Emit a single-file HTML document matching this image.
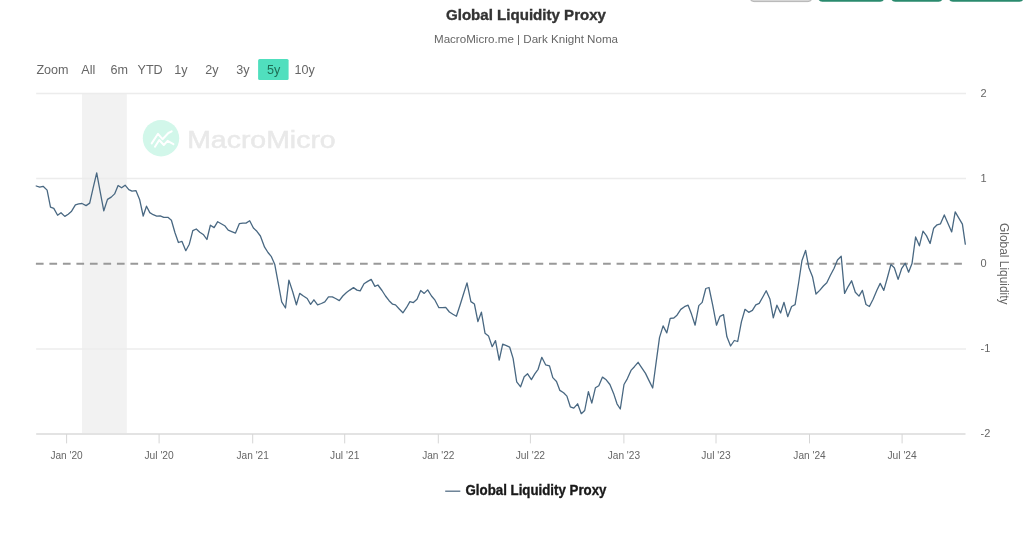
<!DOCTYPE html>
<html><head><meta charset="utf-8"><title>Global Liquidity Proxy</title>
<style>html,body{margin:0;padding:0;background:#ffffff;}body{width:1024px;height:539px;overflow:hidden;position:relative;}</style>
</head><body>
<svg width="1024" height="539" viewBox="0 0 1024 539" style="position:absolute;left:0;top:0"><rect x="750" y="-20" width="62" height="21.6" rx="4" fill="#d6d6d6" stroke="#b5b5b5" stroke-width="1"/><rect x="818.3" y="-20" width="65.9" height="21.8" rx="4" fill="#2a8a6e"/><rect x="891.2" y="-20" width="51.4" height="21.8" rx="4" fill="#2a8a6e"/><rect x="948.9" y="-20" width="74.6" height="21.8" rx="4" fill="#2a8a6e"/><text x="526" y="19.9" text-anchor="middle" font-family='"Liberation Sans", "DejaVu Sans", sans-serif' font-weight="bold" font-size="15.3" textLength="160" lengthAdjust="spacingAndGlyphs" fill="#333333" stroke="#333333" stroke-width="0.35">Global Liquidity Proxy</text><text x="526" y="43.2" text-anchor="middle" font-family='"Liberation Sans", "DejaVu Sans", sans-serif' font-size="11.6" fill="#666666">MacroMicro.me | Dark Knight Noma</text><text x="36.4" y="74.4" font-family='"Liberation Sans", "DejaVu Sans", sans-serif' font-size="12.6" fill="#666666">Zoom</text><rect x="258.1" y="59" width="30.5" height="21" rx="1.5" fill="#50dfbe"/><text x="88.3" y="74.4" text-anchor="middle" font-family='"Liberation Sans", "DejaVu Sans", sans-serif' font-size="12.6" fill="#666666">All</text><text x="119.2" y="74.4" text-anchor="middle" font-family='"Liberation Sans", "DejaVu Sans", sans-serif' font-size="12.6" fill="#666666">6m</text><text x="150.1" y="74.4" text-anchor="middle" font-family='"Liberation Sans", "DejaVu Sans", sans-serif' font-size="12.6" fill="#666666">YTD</text><text x="181.0" y="74.4" text-anchor="middle" font-family='"Liberation Sans", "DejaVu Sans", sans-serif' font-size="12.6" fill="#666666">1y</text><text x="211.9" y="74.4" text-anchor="middle" font-family='"Liberation Sans", "DejaVu Sans", sans-serif' font-size="12.6" fill="#666666">2y</text><text x="242.8" y="74.4" text-anchor="middle" font-family='"Liberation Sans", "DejaVu Sans", sans-serif' font-size="12.6" fill="#666666">3y</text><text x="273.7" y="74.4" text-anchor="middle" font-family='"Liberation Sans", "DejaVu Sans", sans-serif' font-size="12.6" fill="#1f6f57">5y</text><text x="304.6" y="74.4" text-anchor="middle" font-family='"Liberation Sans", "DejaVu Sans", sans-serif' font-size="12.6" fill="#666666">10y</text><rect x="82.0" y="93.5" width="44.8" height="340.5" fill="#f2f2f2"/><circle cx="161" cy="138.2" r="18.2" fill="#d2f7ea"/><polyline points="151.7,143.4 158,133.8 162.5,139.2 168.4,133 171.7,131.3" fill="none" stroke="#ffffff" stroke-width="2" stroke-linejoin="round" stroke-linecap="round"/><polyline points="155,146.7 159.2,140 163.8,145 167.6,140.9 173.4,144.2" fill="none" stroke="#ffffff" stroke-width="2" stroke-linejoin="round" stroke-linecap="round"/><text x="187.2" y="147.6" font-family='"Liberation Sans", "DejaVu Sans", sans-serif' font-size="23.5" textLength="148.5" lengthAdjust="spacingAndGlyphs" fill="#e9e9e9" stroke="#e9e9e9" stroke-width="0.5">MacroMicro</text><line x1="36.2" x2="966" y1="93.5" y2="93.5" stroke="#ececec" stroke-width="1.6"/><line x1="36.2" x2="966" y1="178.5" y2="178.5" stroke="#ececec" stroke-width="1.6"/><line x1="36.2" x2="966" y1="349.0" y2="349.0" stroke="#ececec" stroke-width="1.6"/><line x1="36.2" x2="965.5" y1="434" y2="434" stroke="#e3e3e3" stroke-width="2"/><line x1="66.6" x2="66.6" y1="434" y2="443.4" stroke="#d6d6d6" stroke-width="1"/><text x="66.6" y="458.7" text-anchor="middle" font-family='"Liberation Sans", "DejaVu Sans", sans-serif' font-size="11" textLength="32.3" lengthAdjust="spacingAndGlyphs" fill="#666666">Jan '20</text><line x1="159.1" x2="159.1" y1="434" y2="443.4" stroke="#d6d6d6" stroke-width="1"/><text x="159.1" y="458.7" text-anchor="middle" font-family='"Liberation Sans", "DejaVu Sans", sans-serif' font-size="11" textLength="29.3" lengthAdjust="spacingAndGlyphs" fill="#666666">Jul '20</text><line x1="252.7" x2="252.7" y1="434" y2="443.4" stroke="#d6d6d6" stroke-width="1"/><text x="252.7" y="458.7" text-anchor="middle" font-family='"Liberation Sans", "DejaVu Sans", sans-serif' font-size="11" textLength="32.3" lengthAdjust="spacingAndGlyphs" fill="#666666">Jan '21</text><line x1="344.7" x2="344.7" y1="434" y2="443.4" stroke="#d6d6d6" stroke-width="1"/><text x="344.7" y="458.7" text-anchor="middle" font-family='"Liberation Sans", "DejaVu Sans", sans-serif' font-size="11" textLength="29.3" lengthAdjust="spacingAndGlyphs" fill="#666666">Jul '21</text><line x1="438.3" x2="438.3" y1="434" y2="443.4" stroke="#d6d6d6" stroke-width="1"/><text x="438.3" y="458.7" text-anchor="middle" font-family='"Liberation Sans", "DejaVu Sans", sans-serif' font-size="11" textLength="32.3" lengthAdjust="spacingAndGlyphs" fill="#666666">Jan '22</text><line x1="530.4" x2="530.4" y1="434" y2="443.4" stroke="#d6d6d6" stroke-width="1"/><text x="530.4" y="458.7" text-anchor="middle" font-family='"Liberation Sans", "DejaVu Sans", sans-serif' font-size="11" textLength="29.3" lengthAdjust="spacingAndGlyphs" fill="#666666">Jul '22</text><line x1="623.9" x2="623.9" y1="434" y2="443.4" stroke="#d6d6d6" stroke-width="1"/><text x="623.9" y="458.7" text-anchor="middle" font-family='"Liberation Sans", "DejaVu Sans", sans-serif' font-size="11" textLength="32.3" lengthAdjust="spacingAndGlyphs" fill="#666666">Jan '23</text><line x1="716.0" x2="716.0" y1="434" y2="443.4" stroke="#d6d6d6" stroke-width="1"/><text x="716.0" y="458.7" text-anchor="middle" font-family='"Liberation Sans", "DejaVu Sans", sans-serif' font-size="11" textLength="29.3" lengthAdjust="spacingAndGlyphs" fill="#666666">Jul '23</text><line x1="809.5" x2="809.5" y1="434" y2="443.4" stroke="#d6d6d6" stroke-width="1"/><text x="809.5" y="458.7" text-anchor="middle" font-family='"Liberation Sans", "DejaVu Sans", sans-serif' font-size="11" textLength="32.3" lengthAdjust="spacingAndGlyphs" fill="#666666">Jan '24</text><line x1="902.1" x2="902.1" y1="434" y2="443.4" stroke="#d6d6d6" stroke-width="1"/><text x="902.1" y="458.7" text-anchor="middle" font-family='"Liberation Sans", "DejaVu Sans", sans-serif' font-size="11" textLength="29.3" lengthAdjust="spacingAndGlyphs" fill="#666666">Jul '24</text><text x="980.6" y="96.85" font-family='"Liberation Sans", "DejaVu Sans", sans-serif' font-size="11" fill="#666666">2</text><text x="980.6" y="181.85" font-family='"Liberation Sans", "DejaVu Sans", sans-serif' font-size="11" fill="#666666">1</text><text x="980.6" y="267.00" font-family='"Liberation Sans", "DejaVu Sans", sans-serif' font-size="11" fill="#666666">0</text><text x="980.6" y="352.35" font-family='"Liberation Sans", "DejaVu Sans", sans-serif' font-size="11" fill="#666666">-1</text><text x="980.6" y="437.35" font-family='"Liberation Sans", "DejaVu Sans", sans-serif' font-size="11" fill="#666666">-2</text><text transform="translate(999.6,263.8) rotate(90)" text-anchor="middle" font-family='"Liberation Sans", "DejaVu Sans", sans-serif' font-size="12" textLength="81.5" lengthAdjust="spacingAndGlyphs" fill="#666666">Global Liquidity</text><line x1="35.9" x2="962.2" y1="263.65" y2="263.65" stroke="#999999" stroke-width="2" stroke-dasharray="7.7 5.804"/><polyline points="36.2,186.0 39.7,187.2 43.1,186.3 47.1,190.1 50.5,207.1 53.8,208.4 57.6,215.2 61.0,212.7 64.8,216.4 68.2,214.2 71.6,211.2 75.4,204.8 78.7,203.8 82.0,203.5 86.1,205.6 89.7,203.1 93.1,188.2 96.7,172.9 100.2,191.9 103.8,210.8 107.5,199.4 111.2,197.1 114.6,193.9 118.1,185.5 121.6,187.8 125.1,185.2 128.8,189.7 132.0,191.2 135.9,190.6 139.6,199.4 143.2,216.0 146.5,206.2 149.8,212.6 153.2,214.7 156.7,216.1 160.2,215.9 163.8,217.3 167.9,217.3 171.4,220.2 174.9,232.5 178.4,242.5 181.9,241.3 185.8,250.7 189.3,244.2 192.8,230.7 196.3,229.0 199.8,232.3 203.6,234.8 206.9,239.5 210.4,225.2 214.1,227.6 217.7,221.7 221.2,223.7 224.7,225.7 228.2,230.2 231.7,231.6 235.5,233.1 239.3,223.7 242.9,223.1 246.0,223.1 249.7,220.8 253.4,228.0 256.9,231.3 260.4,236.0 264.6,247.2 268.0,252.5 271.4,256.7 274.7,264.2 278.0,281.8 281.7,301.8 285.5,308.0 288.9,280.1 292.7,291.8 296.4,304.8 299.7,293.4 303.4,296.0 307.2,298.5 310.6,304.3 313.9,299.8 317.6,304.8 321.4,303.5 324.8,301.8 328.5,296.8 332.3,296.8 335.6,298.5 339.3,300.6 342.8,296.0 346.5,292.6 349.8,290.1 353.5,287.6 357.0,290.1 360.2,290.9 364.0,283.8 367.7,281.4 371.2,279.4 374.9,286.4 377.9,285.0 382.0,290.5 385.5,296.0 389.1,300.7 392.6,304.2 395.5,304.9 399.0,308.7 402.9,312.8 406.4,307.7 409.9,301.6 413.4,302.6 417.0,299.3 420.7,290.5 424.2,293.4 427.7,289.9 431.5,296.0 435.0,300.2 438.9,307.7 442.4,307.7 445.7,307.3 449.4,312.0 452.9,314.3 456.4,316.3 460.0,305.2 463.5,294.0 467.0,282.9 470.9,301.6 474.4,304.0 477.9,321.6 481.4,312.2 485.0,333.2 488.5,335.9 492.2,346.7 495.5,340.6 499.2,360.1 502.7,344.2 506.4,345.6 509.7,347.2 513.1,358.4 516.7,381.8 520.6,386.8 524.2,376.8 527.6,373.8 531.4,379.6 534.8,373.8 538.1,369.3 541.8,357.3 545.6,364.8 549.5,365.9 552.8,377.6 556.5,381.5 559.9,390.4 563.6,392.7 566.9,396.1 570.3,406.8 573.8,408.2 577.6,403.8 581.3,413.7 584.7,410.5 588.4,391.6 591.8,403.1 595.4,387.8 598.8,385.7 602.5,377.1 606.2,379.8 609.9,384.5 613.6,393.4 617.0,403.8 620.3,409.0 624.0,384.5 627.4,378.6 631.0,370.4 634.4,366.7 638.1,362.3 641.8,367.9 645.5,373.4 648.9,380.4 652.7,388.0 656.3,361.1 659.5,337.6 663.1,325.9 666.8,332.9 670.2,318.4 673.8,318.0 677.0,315.2 680.8,309.4 684.5,306.7 688.1,305.2 691.5,314.1 695.1,325.2 698.8,305.6 702.2,302.4 705.8,288.5 709.0,287.5 712.8,305.6 716.5,325.2 720.0,316.3 723.5,314.6 726.9,336.8 730.6,346.0 734.3,340.5 737.7,341.5 741.4,321.9 745.0,309.3 748.7,312.3 752.4,310.4 755.8,304.9 759.2,303.4 762.8,297.0 766.2,290.8 769.9,298.9 773.3,317.8 776.9,305.2 780.6,313.0 784.0,302.3 787.7,316.7 791.6,306.5 795.1,304.7 798.6,283.0 801.9,260.8 805.6,250.4 808.8,267.4 812.6,277.1 816.0,294.0 819.7,290.4 823.4,286.0 826.8,282.7 830.4,275.3 834.1,268.2 837.5,260.0 841.2,256.3 844.6,293.4 848.3,286.3 851.6,280.8 855.3,292.2 859.0,296.1 862.4,290.4 866.0,304.5 869.4,306.5 873.1,299.3 877.0,290.0 880.2,283.4 883.8,290.4 887.3,278.0 890.9,264.6 894.3,267.7 898.1,279.4 901.6,268.7 905.2,263.3 908.6,272.2 912.0,263.6 915.6,237.0 919.4,245.8 923.0,231.2 926.4,235.6 930.1,243.5 933.7,228.2 937.1,224.8 940.5,223.8 944.3,214.9 948.0,223.4 951.7,231.9 955.2,211.9 958.7,217.8 962.4,224.2 965.3,244.1" fill="none" stroke="#496882" stroke-width="1.3" stroke-linejoin="round" stroke-linecap="round"/><line x1="445.2" x2="460.3" y1="491.2" y2="491.2" stroke="#556f86" stroke-width="1.3"/><text x="465.5" y="495.2" font-family='"Liberation Sans", "DejaVu Sans", sans-serif' font-weight="bold" font-size="13.9" textLength="141" lengthAdjust="spacingAndGlyphs" fill="#1a1a1a" stroke="#1a1a1a" stroke-width="0.35">Global Liquidity Proxy</text></svg>
</body></html>
